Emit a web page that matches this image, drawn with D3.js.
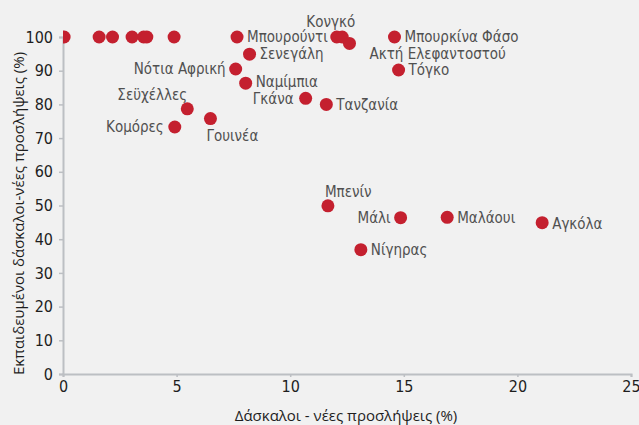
<!DOCTYPE html>
<html>
<head>
<meta charset="utf-8">
<script src="https://cdn.jsdelivr.net/npm/d3@7"></script>
<style>
  body { margin: 0; background: #f1f1f1; }
  #chart { width: 639px; height: 425px; }
</style>
</head>
<body>
<div id="chart"></div>
<script>
// data
var countries = ["", "", "", "", "", "", "", "Μπουρούντι", "Κονγκό", "", "Ακτή Ελεφαντοστού",
  "Μπουρκίνα Φάσο", "Σενεγάλη", "Νότια Αφρική", "Τόγκο", "Ναμίμπια", "Γκάνα", "Τανζανία",
  "Σεϋχέλλες", "Γουινέα", "Κομόρες", "Μπενίν", "Μάλι", "Μαλάουι", "Αγκόλα", "Νίγηρας"];
var newHires = [0.05, 1.59, 2.18, 3.04, 3.55, 3.69, 4.89, 7.66, 12.05, 12.29, 12.61,
  14.59, 8.21, 7.6, 14.77, 8.04, 10.68, 11.59,
  5.47, 6.49, 4.92, 11.66, 14.86, 16.91, 21.09, 13.11];
var trained = [100, 100, 100, 100, 100, 100, 100, 100, 100, 100, 98.1,
  100, 94.9, 90.5, 90.2, 86.3, 81.8, 80.0,
  78.7, 75.8, 73.3, 49.9, 46.4, 46.5, 44.9, 36.9];
var xTicks = [0, 5, 10, 15, 20, 25];
var yTicks = [0, 10, 20, 30, 40, 50, 60, 70, 80, 90, 100];

// where each label sits relative to its dot: [dx, dy, anchor]
var labelPos = {
  "Μπουρούντι": [10, 0, "start"],
  "Κονγκό": [-6, -15, "middle"],
  "Ακτή Ελεφαντοστού": [20, 10, "start"],
  "Μπουρκίνα Φάσο": [10, 0, "start"],
  "Σενεγάλη": [10, 0, "start"],
  "Νότια Αφρική": [-10, 0, "end"],
  "Τόγκο": [10, 0, "start"],
  "Ναμίμπια": [10, -1, "start"],
  "Γκάνα": [-12, 0.5, "end"],
  "Τανζανία": [10, 0, "start"],
  "Σεϋχέλλες": [0, -14, "end"],
  "Γουινέα": [-4, 17, "start"],
  "Κομόρες": [-11, 0, "end"],
  "Μπενίν": [-3, -14, "start"],
  "Μάλι": [-10, 0, "end"],
  "Μαλάουι": [10, 0, "start"],
  "Αγκόλα": [10, 1.5, "start"],
  "Νίγηρας": [10, 0, "start"]
};

var svgwidth = 639;
var svgheight = 425;
var margin = { top: 37, right: 8, bottom: 51, left: 63 };
var inner_width = svgwidth - margin.left - margin.right;
var inner_height = svgheight - margin.top - margin.bottom;
var narrow = "'Liberation Sans Narrow', 'DejaVu Sans Condensed', sans-serif";

var svg = d3.select("#chart").append("svg")
  .attr("width", svgwidth)
  .attr("height", svgheight);

var g = svg.append("g")
  .attr("transform", "translate(" + margin.left + "," + margin.top + ")");

var xscale = d3.scaleLinear().domain([0, 25]).range([0, inner_width]);
var yscale = d3.scaleLinear().domain([0, 100]).range([inner_height, 0]);

g.append("clipPath").attr("id", "clip")
  .append("rect")
  .attr("x", 0).attr("y", -20)
  .attr("width", inner_width + 10).attr("height", inner_height + 40);

// x axis
var xaxis = g.append("g")
  .attr("transform", "translate(0," + inner_height + ")")
  .call(d3.axisBottom(xscale).tickValues(xTicks).tickSize(3).tickPadding(4));

// y axis
var yaxis = g.append("g")
  .call(d3.axisLeft(yscale).tickValues(yTicks).tickSize(4).tickPadding(6));

[xaxis, yaxis].forEach(function (ax) {
  ax.select(".domain").attr("stroke", "#bcbfc3").attr("stroke-width", 2);
  ax.selectAll(".tick line").attr("stroke", "#bcbfc3").attr("stroke-width", 1.5);
  ax.selectAll(".tick text")
    .style("font-family", narrow)
    .style("font-size", "16px")
    .attr("fill", "#1e1e1e");
});

// dots
var data = countries.map(function (c, i) {
  return { name: c, x: newHires[i], y: trained[i] };
});

g.append("g")
  .attr("clip-path", "url(#clip)")
  .selectAll("circle")
  .data(data)
  .join("circle")
  .attr("cx", function (d) { return xscale(d.x); })
  .attr("cy", function (d) { return yscale(d.y); })
  .attr("r", 6.5)
  .attr("fill", "#c4202f");

// labels
g.append("g")
  .selectAll("text")
  .data(data.filter(function (d) { return d.name !== ""; }))
  .join("text")
  .attr("x", function (d) { return xscale(d.x) + labelPos[d.name][0]; })
  .attr("y", function (d) { return yscale(d.y) + labelPos[d.name][1]; })
  .attr("dy", "0.35em")
  .attr("text-anchor", function (d) { return labelPos[d.name][2]; })
  .style("font-family", narrow)
  .style("font-size", "15px")
  .attr("fill", "#505050")
  .text(function (d) { return d.name; });

// axis titles
svg.append("text")
  .attr("x", margin.left + inner_width / 2 - 1)
  .attr("y", 421)
  .attr("text-anchor", "middle")
  .style("font-family", "'Open Sans', sans-serif")
  .style("font-size", "15px")
  .attr("fill", "#1e1e1e")
  .text("Δάσκαλοι - νέες προσλήψεις (%)");

svg.append("text")
  .attr("transform", "translate(24," + (margin.top + inner_height / 2 + 8) + ") rotate(-90)")
  .attr("text-anchor", "middle")
  .style("font-family", "'Open Sans', sans-serif")
  .style("font-size", "15px")
  .attr("fill", "#1e1e1e")
  .text("Εκπαιδευμένοι δάσκαλοι-νέες προσλήψεις (%)");
</script>
</body>
</html>
